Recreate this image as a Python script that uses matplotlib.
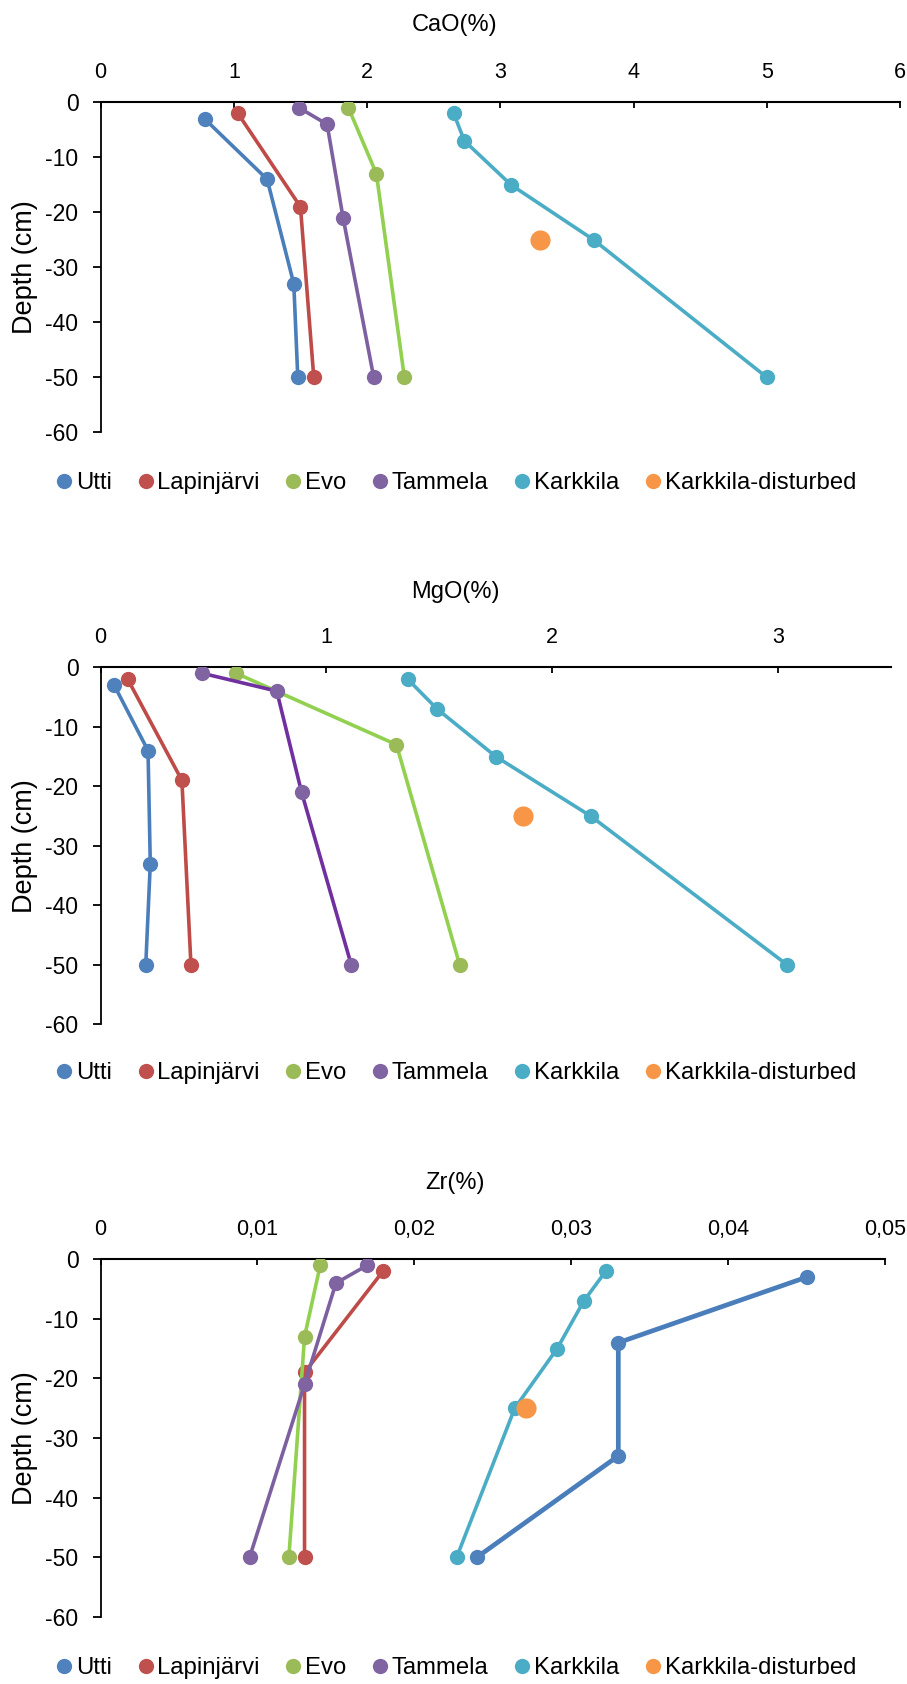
import matplotlib
matplotlib.use("Agg")
import matplotlib.pyplot as plt
from matplotlib.lines import Line2D
from matplotlib.ticker import FuncFormatter
import numpy as np

plt.rcParams['font.family'] = ['Liberation Sans', 'DejaVu Sans']
plt.rcParams['axes.unicode_minus'] = False

# Data

sites = ['Utti', 'Lapinjärvi', 'Evo', 'Tammela', 'Karkkila', 'Karkkila-disturbed']

depth_utti = [-3, -14, -33, -50]
depth_lapinjarvi = [-2, -19, -50]
depth_evo = [-1, -13, -50]
depth_tammela = [-1, -4, -21, -50]
depth_karkkila = [-2, -7, -15, -25, -50]
depth_disturbed = [-25]

cao_utti = [0.78, 1.25, 1.45, 1.48]
cao_lapinjarvi = [1.03, 1.50, 1.60]
cao_evo = [1.86, 2.07, 2.28]
cao_tammela = [1.49, 1.70, 1.82, 2.05]
cao_karkkila = [2.65, 2.73, 3.08, 3.70, 5.00]
cao_disturbed = [3.30]

mgo_utti = [0.06, 0.21, 0.22, 0.20]
mgo_lapinjarvi = [0.12, 0.36, 0.40]
mgo_evo = [0.60, 1.31, 1.59]
mgo_tammela = [0.45, 0.78, 0.89, 1.11]
mgo_karkkila = [1.36, 1.49, 1.75, 2.17, 3.04]
mgo_disturbed = [1.87]

zr_utti = [0.0450, 0.0330, 0.0330, 0.0240]
zr_lapinjarvi = [0.0180, 0.0130, 0.0130]
zr_evo = [0.0140, 0.0130, 0.0120]
zr_tammela = [0.0170, 0.0150, 0.0130, 0.0095]
zr_karkkila = [0.0322, 0.0308, 0.0291, 0.0264, 0.0227]
zr_disturbed = [0.0271]

cao_ticks = [0, 1, 2, 3, 4, 5, 6]
mgo_ticks = [0, 1, 2, 3]
zr_ticks = [0, 0.01, 0.02, 0.03, 0.04, 0.05]
depth_ticks = [0, -10, -20, -30, -40, -50, -60]

# Farger (Excel-stil)
marker_cols = ['#4F81BD', '#C0504D', '#9BBB59', '#8064A2', '#4BACC6', '#F79646']
line_cols = ['#4A7EBB', '#BE4B48', '#92D050', '#7D60A0', '#4BACC6', None]

W, H = 907, 1684
fig = plt.figure(figsize=(W / 100, H / 100), dpi=100)


def px_box(left, right, top, bottom):
    return [left / W, 1 - bottom / H, (right - left) / W, (bottom - top) / H]


def rita_panel(box, title, title_y, legend_y, xs, xlim, xticks, fmt, tammela_line=None, utti_lw=2.6):
    ax = fig.add_axes(px_box(*box))
    depths = [depth_utti, depth_lapinjarvi, depth_evo, depth_tammela, depth_karkkila]
    for i, (x, d) in enumerate(zip(xs[:5], depths)):
        lc = line_cols[i]
        if i == 3 and tammela_line:
            lc = tammela_line
        lw = utti_lw if i == 0 else 2.6
        ax.plot(x, d, color=lc, lw=lw, zorder=2 + i, solid_capstyle='round')
        ax.plot(x, d, 'o', color=marker_cols[i], ms=11, mec='none', zorder=2 + i)
    ax.plot(xs[5], depth_disturbed, 'o', color=marker_cols[5], ms=14.5, mec='none', zorder=8)

    ax.set_xlim(*xlim)
    ax.set_ylim(-60, 0)
    ax.xaxis.tick_top()
    ax.set_xticks(xticks)
    ax.xaxis.set_major_formatter(FuncFormatter(fmt))
    ax.set_yticks(depth_ticks)
    ax.tick_params(axis='x', direction='in', length=4.5, width=1.3, pad=14, labelsize=15.5)
    ax.tick_params(axis='y', direction='out', length=6, width=1.3, pad=10, labelsize=16.5)
    for s in ['right', 'bottom']:
        ax.spines[s].set_visible(False)
    ax.spines['top'].set_linewidth(1.5)
    ax.spines['left'].set_linewidth(1.3)
    ax.patch.set_alpha(0)

    cy = (box[2] + box[3]) / 2
    fig.text(25 / W, 1 - cy / H, 'Depth (cm)', rotation=90, ha='center', va='center', fontsize=19.5)
    fig.text(455 / W, 1 - title_y / H, title, ha='center', va='center', fontsize=17)

    handles = [Line2D([], [], ls='none', marker='o', ms=11, color=c, mec='none') for c in marker_cols]
    fig.legend(handles, sites, loc='center', bbox_to_anchor=(456 / W, 1 - legend_y / H),
               ncol=6, frameon=False, fontsize=17.2, handletextpad=0.15, columnspacing=1.05,
               handlelength=0.7, borderaxespad=0, borderpad=0)
    return ax


num_fmt = lambda v, p: '%g' % v
comma_fmt = lambda v, p: ('%g' % v).replace('.', ',')

rita_panel((100.6, 900, 102.3, 432.3), 'CaO(%)', 25, 483,
           [cao_utti, cao_lapinjarvi, cao_evo, cao_tammela, cao_karkkila, cao_disturbed],
           (0, 6), cao_ticks, num_fmt)

rita_panel((100.6, 891, 667.3, 1024.3), 'MgO(%)', 592, 1073,
           [mgo_utti, mgo_lapinjarvi, mgo_evo, mgo_tammela, mgo_karkkila, mgo_disturbed],
           (0, 3.5), mgo_ticks, num_fmt, tammela_line='#7030A0')

rita_panel((100.6, 885, 1259.3, 1616.7), 'Zr(%)', 1183, 1668,
           [zr_utti, zr_lapinjarvi, zr_evo, zr_tammela, zr_karkkila, zr_disturbed],
           (0, 0.05), zr_ticks, comma_fmt, utti_lw=3.4)

fig.savefig('out.png', dpi=100)
